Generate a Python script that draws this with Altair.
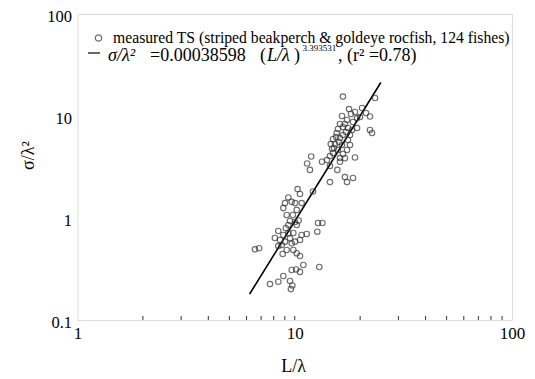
import altair as alt
import pandas as pd

# measured points (L/lambda, sigma/lambda^2)
L_over_lambda = [16.67, 23.41, 20.40, 18.93, 18.15, 16.5, 22.19, 19.35, 17.4, 18.54,
                 16.15, 16.67, 15.81, 17.58, 22.19, 22.68, 15.60, 16.67, 17.96, 15.0,
                 16.15, 17.58, 15.32, 16.5, 17.96, 14.85, 15.81, 17.4, 15.0, 16.67,
                 11.9, 13.35, 11.4, 14.52, 17.02, 18.93, 11.75, 14.52, 15.7, 16.15,
                 17.02, 18.54, 17.4, 14.52, 12.13, 10.3, 10.57, 9.34, 10.76, 12.8,
                 13.4, 9.68, 9.02, 10.03, 8.86, 10.21, 9.51, 10.03, 10.42, 9.34,
                 10.21, 12.7, 8.40, 8.86, 9.34, 9.85, 10.76, 11.35, 8.55, 9.02,
                 9.51, 10.03, 9.68, 8.40, 8.71, 6.56, 6.85, 9.18, 9.85, 10.21,
                 8.8, 10.57, 10.95, 9.68, 10.15, 10.57, 12.97, 8.86, 8.40, 7.69,
                 9.51, 9.75, 9.6, 17.02, 15.5, 18.35, 15.98, 17.2, 14.65, 19.35,
                 19.97, 21.29, 17.78, 15.16, 16.15, 14.07, 9.18, 9.8, 10.57, 9.1,
                 8.1]
sigma_over_lambda2 = [15.5, 15.0, 11.98, 10.94, 10.46, 10.0, 9.89, 9.55, 9.14, 8.73,
                      8.35, 7.80, 7.46, 7.63, 7.29, 6.81, 6.81, 6.51, 6.51, 5.95,
                      6.08, 5.82, 5.31, 5.20, 5.20, 4.75, 4.64, 4.64, 4.34, 4.24,
                      4.01, 3.56, 3.42, 4.05, 3.85, 3.92, 2.96, 3.24, 2.96, 3.56,
                      2.52, 2.47, 2.25, 2.25, 1.82, 1.92, 1.72, 1.59, 1.40, 0.893,
                      0.893, 1.44, 1.40, 1.40, 1.25, 1.20, 0.935, 0.913, 0.945, 0.854,
                      0.854, 0.734, 0.746, 0.681, 0.71, 0.713, 0.681, 0.697, 0.609, 0.586,
                      0.632, 0.586, 0.565, 0.531, 0.544, 0.493, 0.505, 0.486, 0.486, 0.451,
                      0.444, 0.424, 0.346, 0.309, 0.313, 0.296, 0.331, 0.270, 0.237, 0.225,
                      0.241, 0.218, 0.201, 8.35, 6.22, 7.29, 5.56, 6.95, 5.31, 7.63,
                      9.77, 10.7, 11.7, 4.86, 3.87, 3.70, 1.07, 1.07, 0.609, 0.798,
                      0.637]

# fitted line end points
fit_L = [6.2, 24.9]
fit_S = [0.18, 21.3]

x_labels = [1, 10, 100]
y_labels = [0.1, 1, 10, 100]
minor_x = [2, 3, 4, 5, 6, 7, 8, 9, 10, 20, 30, 40, 50, 60, 70, 80, 90]

legend1 = "measured TS (striped beakperch & goldeye rocfish, 124 fishes)"

W, H = 434.5, 306
FONT = "'Liberation Serif', 'Times New Roman', 'DejaVu Serif', serif"

pts_df = pd.DataFrame({"L": L_over_lambda, "S": sigma_over_lambda2})
fit_df = pd.DataFrame({"L": fit_L, "S": fit_S})
tick_df = pd.DataFrame({"L": minor_x})
one = pd.DataFrame({"a": [0]})

xscale = alt.Scale(type="log", domain=[1, 100], nice=False)
yscale = alt.Scale(type="log", domain=[0.1, 100], nice=False)

xaxis = alt.Axis(values=x_labels, labelExpr="format(datum.value, '~g')", ticks=False,
                 domain=False, grid=False, labelFont=FONT, labelFontSize=17,
                 labelColor="black", labelPadding=5, labelFlush=False,
                 title="L/λ", titleFont=FONT, titleFontSize=18, titleFontWeight="normal",
                 titleColor="black", titleX=215.5, titleY=46, titleBaseline="middle",
                 titleAlign="center")
yaxis = alt.Axis(values=y_labels, labelExpr="format(datum.value, '~g')", ticks=False,
                 domain=False, grid=False, labelFont=FONT, labelFontSize=16.5,
                 labelColor="black", labelPadding=6, labelFlush=False, labelOffset=2,
                 title="σ/λ²", titleFont=FONT, titleFontSize=18, titleFontWeight="normal",
                 titleColor="black", titleX=-49.5, titleY=141, titleAngle=270,
                 titleBaseline="middle", titleAlign="center")

pts = alt.Chart(pts_df).mark_point(shape="circle", filled=False, size=30,
                                    stroke="#333", strokeWidth=1.15).encode(
    x=alt.X("L:Q", scale=xscale, axis=xaxis),
    y=alt.Y("S:Q", scale=yscale, axis=yaxis),
)

line = alt.Chart(fit_df).mark_line(color="black", strokeWidth=1.6).encode(
    x=alt.X("L:Q", scale=xscale),
    y=alt.Y("S:Q", scale=yscale),
)

ticks = alt.Chart(tick_df).mark_rule(color="#333", strokeWidth=1).encode(
    x=alt.X("L:Q", scale=xscale),
    y=alt.value(H),
    y2=alt.value(H - 4),
)

leg_circle = alt.Chart(one).mark_point(shape="circle", filled=False, size=40,
                                        stroke="#333", strokeWidth=1.3).encode(
    x=alt.value(21), y=alt.value(24))
leg_dash = alt.Chart(one).mark_rule(color="black", strokeWidth=1.2).encode(
    x=alt.value(10.5), x2=alt.value(22.5), y=alt.value(39))


def txt(s, x, y, size=18, style="normal"):
    return alt.Chart(one).mark_text(align="left", baseline="middle", font=FONT,
                                    fontSize=size, fontStyle=style, color="black").encode(
        x=alt.value(x), y=alt.value(y), text=alt.value(s))


Y2 = 41.5
legend = [
    txt(legend1, 35.5, 23.5, size=15.7),
    txt("σ/λ²", 30.5, Y2, style="italic"),
    txt("=0.00038598", 72.5, Y2),
    txt("(", 182.5, Y2),
    txt("L/λ", 189.5, Y2, style="italic"),
    txt(")", 216.5, Y2),
    txt("3.393531", 225, 34, size=9),
    txt(", (r² =0.78)", 260.5, Y2),
]

chart = alt.layer(ticks, line, pts, leg_circle, leg_dash, *legend).properties(
    width=W, height=H,
    autosize=alt.AutoSizeParams(type="none"),
    padding={"left": 69.5, "top": 6, "right": 15, "bottom": 59},
).configure_view(stroke="#555", strokeWidth=1.5).configure(background="white")

chart.save("out.html", embed_options={"renderer": "svg", "actions": False})
